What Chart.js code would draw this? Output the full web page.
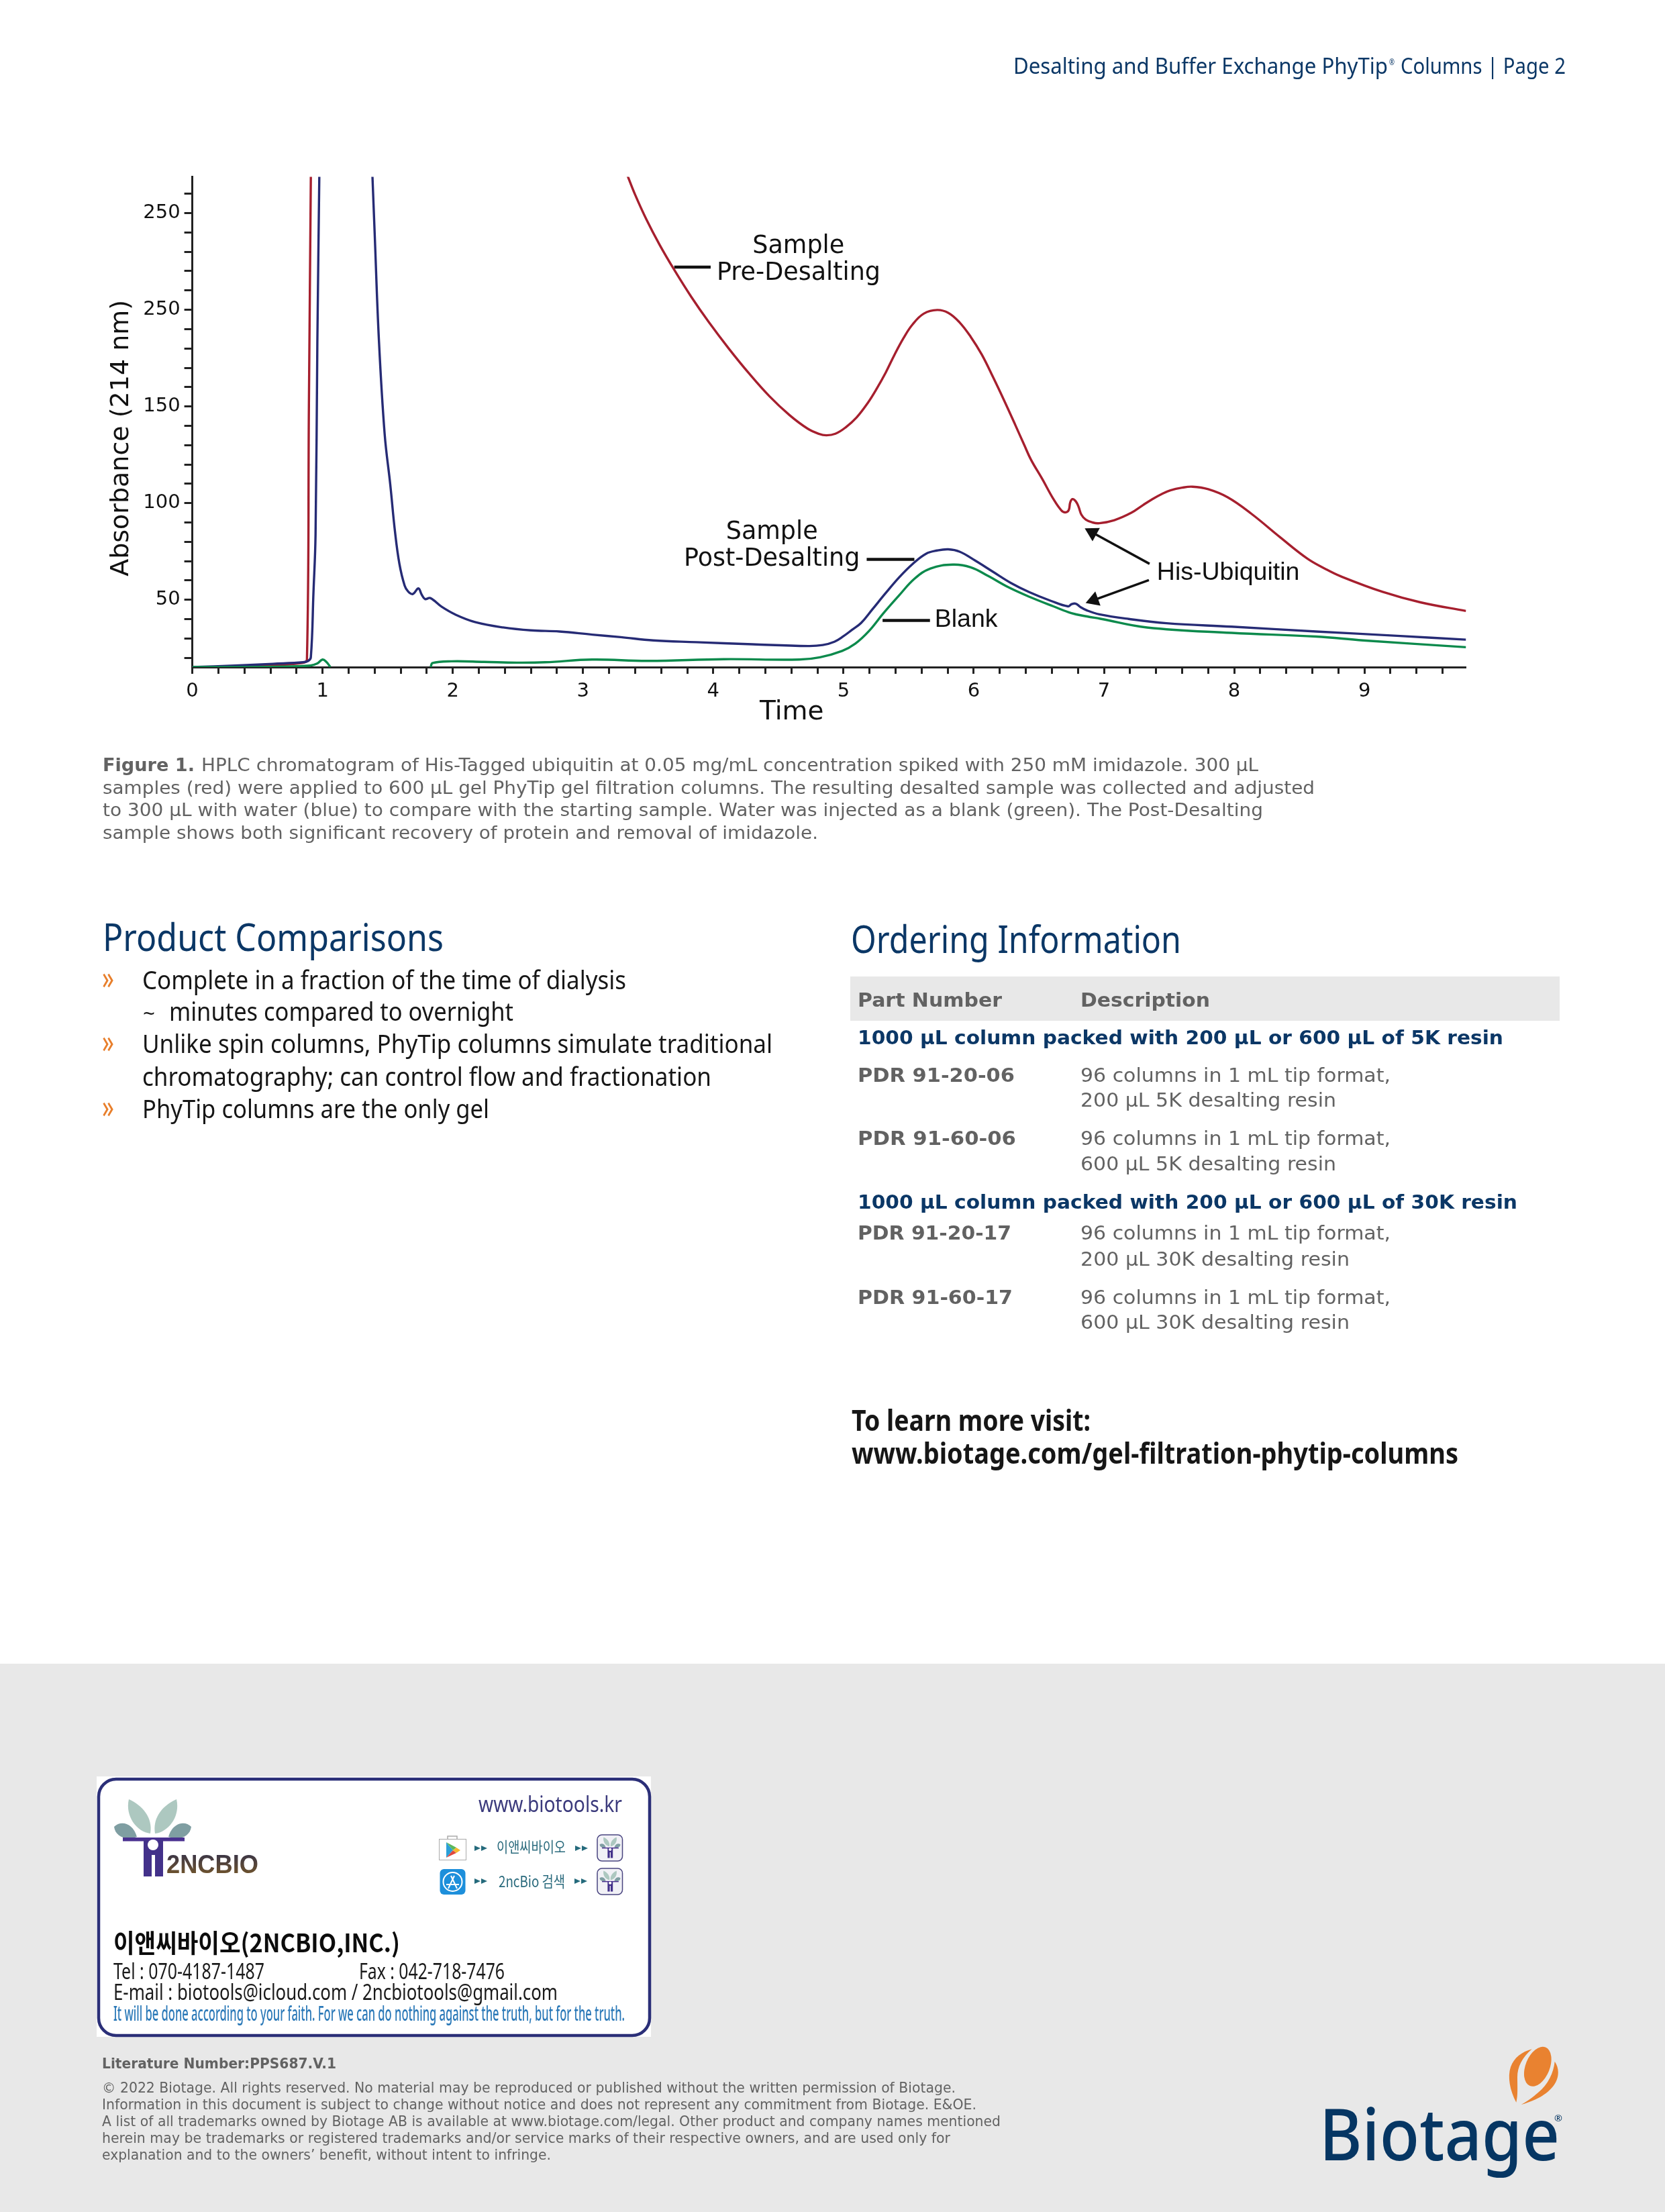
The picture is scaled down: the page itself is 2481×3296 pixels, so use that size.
<!DOCTYPE html>
<html><head><meta charset="utf-8">
<script src="https://cdn.jsdelivr.net/npm/chart.js@4"></script>
<style>
html,body{margin:0;padding:0;background:#fff;width:2481px;height:3296px;overflow:hidden}
#band{position:absolute;left:0;top:2479px;width:2481px;height:817px;background:#e8e8e8}
#c{position:absolute;left:140px;top:240px}
#page{position:absolute;left:0;top:0}
</style></head><body>
<div id="band"></div>
<canvas id="c" width="2060" height="860" style="width:2060px;height:860px"></canvas>
<svg id="page" width="2481" height="3296" viewBox="0 0 2481 3296" xmlns="http://www.w3.org/2000/svg"></svg>
<script>
// ---- chart data ----
const yTickValues = [50, 100, 150, 200, 250];
const yTickLabels = ['50', '100', '150', '250', '250'];
const xTickValues = [0, 1, 2, 3, 4, 5, 6, 7, 8, 9];
const xTickLabels = ['0', '1', '2', '3', '4', '5', '6', '7', '8', '9'];

const redX = [0, 0.33, 0.62, 0.85, 0.88, 0.895, 0.91, null, 3.335, 3.40, 3.486, 3.589, 3.70, 3.83, 3.967, 4.122, 4.277, 4.431, 4.586, 4.723, 4.809, 4.869, 4.938, 5.015, 5.10, 5.187, 5.255, 5.324, 5.392, 5.462, 5.53, 5.616, 5.719, 5.805, 5.891, 5.977, 6.062, 6.148, 6.234, 6.32, 6.389, 6.44, 6.526, 6.612, 6.672, 6.703, 6.729, 6.741, 6.758, 6.784, 6.805, 6.827, 6.861, 6.912, 6.964, 7.08, 7.21, 7.30, 7.37, 7.44, 7.51, 7.60, 7.68, 7.80, 7.95, 8.13, 8.35, 8.56, 8.70, 8.82, 9.14, 9.43, 9.78];
const redY = [15.2, 15.4, 16.2, 17.4, 19.2, 150, 269, null, 270.5, 259.5, 246.8, 233.5, 220.7, 206.8, 193.5, 179.7, 166.9, 155.3, 145.5, 138.6, 135.9, 135.1, 135.9, 139.1, 144.3, 151.9, 159.2, 167.5, 176.8, 185.5, 192.4, 198, 199.9, 198.4, 193.5, 186, 176.8, 165.2, 153, 140.3, 129.9, 122.4, 112.5, 102.1, 96.3, 95.2, 96.3, 100.4, 102.1, 100.9, 98.1, 94, 91.4, 90, 89.6, 91.2, 95, 99, 102, 104.6, 106.6, 108, 108.5, 107.2, 103, 94.6, 82.5, 71.4, 66, 62.1, 54.1, 48.7, 44.2];

const blueX = [0, 0.33, 0.62, 0.85, 0.89, 0.91, 0.93, 0.946, 0.96, 0.975, null, 1.383, 1.40, 1.433, 1.477, 1.52, 1.556, 1.59, 1.63, 1.657, 1.693, 1.736, 1.76, 1.787, 1.827, 1.917, 2.025, 2.17, 2.386, 2.60, 2.82, 3.07, 3.29, 3.54, 3.87, 4.30, 4.73, 4.84, 4.93, 5.0, 5.066, 5.135, 5.221, 5.324, 5.427, 5.53, 5.633, 5.719, 5.805, 5.891, 6.011, 6.148, 6.286, 6.423, 6.595, 6.724, 6.75, 6.784, 6.818, 6.87, 6.964, 7.19, 7.48, 7.98, 8.63, 9.25, 9.78];
const blueY = [15.2, 16, 16.9, 17.7, 18.4, 20.3, 53.7, 83.5, 183.8, 269, null, 269, 239.6, 183.8, 135.5, 109.5, 85.3, 68.6, 57.4, 54.3, 53, 55.9, 52.8, 50.4, 50.9, 46.3, 42.2, 38.5, 35.7, 34.2, 33.6, 32, 30.7, 29, 28.1, 27, 26.1, 26.6, 28.3, 31.2, 34.5, 38, 45, 53.5, 61.6, 68.5, 73.8, 75.5, 76.1, 74.9, 70.3, 64.5, 58.7, 54.1, 49.4, 46.6, 47.7, 48, 46.3, 44.5, 42.5, 40.1, 37.9, 36.1, 33.6, 31.4, 29.4];

const greenX = [0, 0.33, 0.62, 0.906, 0.96, 1.0, 1.03, 1.06, null, 1.83, 1.845, 1.99, 2.24, 2.49, 2.71, 3.07, 3.5, 4.08, 4.66, 4.82, 4.99, 5.09, 5.195, 5.307, 5.427, 5.547, 5.668, 5.84, 5.977, 6.114, 6.269, 6.44, 6.612, 6.75, 6.87, 6.973, 7.33, 7.98, 8.63, 8.99, 9.78];
const greenY = [15.2, 15.2, 15.4, 16, 17.1, 19.1, 17.8, 15.2, null, 15.2, 17.3, 18.2, 17.9, 17.5, 17.7, 19.1, 18.4, 19.3, 19.1, 20.3, 23.6, 27.3, 33.8, 43.1, 52.3, 61, 66.2, 68.2, 66.8, 62.2, 56.4, 51.2, 46.6, 43.1, 41.4, 40.2, 35.7, 32.9, 31, 29, 25.5];

// leader lines and arrows of the annotations, in axis units
const leaderPreX = [3.70, 3.98];    const leaderPreY = [222.1, 222.1];
const leaderPostX = [5.178, 5.544]; const leaderPostY = [70.9, 70.9];
const leaderBlankX = [5.30, 5.664]; const leaderBlankY = [39.3, 39.3];
const arrowRedX = [7.35, 6.911];    const arrowRedY = [68.6, 84.8];
const arrowBlueX = [7.345, 6.922];  const arrowBlueY = [60.2, 49.9];

const noteTexts = ['Sample', 'Pre-Desalting', 'Sample', 'Post-Desalting', 'Blank', 'His-Ubiquitin'];
const noteX = [4.654, 4.655, 4.45, 4.45, 5.70, 7.406];
const noteY = [229.4, 215.5, 81.6, 67.7, 36.1, 60.2];

function pts(xs, ys) { return xs.map((x, i) => x === null ? {x: NaN, y: null} : {x, y: ys[i]}); }
function curve(label, xs, ys, color) {
  return {label, data: pts(xs, ys), borderColor: color, borderWidth: 3.4, pointRadius: 0, fill: false, tension: 0.4, spanGaps: false};
}
function leader(label, xs, ys) {
  return {label, data: pts(xs, ys), borderColor: '#111', borderWidth: 4.5, pointRadius: 0, fill: false};
}
function arrow(label, xs, ys, rot) {
  return {label, data: pts(xs, ys), borderColor: '#111', backgroundColor: '#111', borderWidth: 3.5, fill: false,
    pointStyle: 'triangle', pointRadius: [0, 13], pointRotation: rot, pointBorderWidth: 0};
}

const noteLabels = {
  id: 'noteLabels',
  afterDatasetsDraw(chart) {
    const {ctx, scales: {x, y}} = chart;
    ctx.save();
    ctx.fillStyle = '#111';
    ctx.textBaseline = 'alphabetic';
    noteTexts.forEach((t, i) => {
      const arial = i >= 4;
      ctx.font = arial ? '37.5px "Liberation Sans"' : '36.5px "DejaVu Sans"';
      ctx.textAlign = arial ? 'left' : 'center';
      ctx.fillText(t, x.getPixelForValue(noteX[i]), y.getPixelForValue(noteY[i]));
    });
    ctx.restore();
  }
};

new Chart(document.getElementById('c'), {
  type: 'line',
  data: {datasets: [
    curve('Blank', greenX, greenY, '#0c8a4c'),
    curve('Sample Post-Desalting', blueX, blueY, '#262b75'),
    curve('Sample Pre-Desalting', redX, redY, '#a61f2e'),
    leader('leader pre', leaderPreX, leaderPreY),
    leader('leader post', leaderPostX, leaderPostY),
    leader('leader blank', leaderBlankX, leaderBlankY),
    arrow('arrow red', arrowRedX, arrowRedY, -61),
    arrow('arrow blue', arrowBlueX, arrowBlueY, -110)
  ]},
  plugins: [noteLabels],
  options: {
    responsive: false, animation: false, devicePixelRatio: 1,
    layout: {padding: {left: 0, right: 15.5, top: 22.5, bottom: 0}},
    plugins: {legend: {display: false}, tooltip: {enabled: false}},
    scales: {
      x: {
        type: 'linear', min: 0, max: 9.78,
        afterFit(s) { s.height = 106; },
        border: {color: '#222', width: 3},
        grid: {drawOnChartArea: false, drawTicks: true, tickLength: 10, tickWidth: 3, tickColor: '#222'},
        ticks: {stepSize: 0.2, includeBounds: false, autoSkip: false, maxRotation: 0, padding: 9, color: '#111', font: {family: 'DejaVu Sans', size: 29},
          callback(v) { const i = xTickValues.findIndex(t => Math.abs(t - v) < 1e-6); return i < 0 ? '' : xTickLabels[i]; }},
        title: {display: true, text: 'Time         ', color: '#111', font: {family: 'DejaVu Sans', size: 39}, padding: {top: 0, bottom: 15}}
      },
      y: {
        type: 'linear', min: 15.2, max: 268.8,
        afterFit(s) { s.width = 146.6; },
        border: {color: '#222', width: 3},
        grid: {drawOnChartArea: false, drawTicks: true, tickLength: 12, tickWidth: 3, tickColor: '#222'},
        ticks: {stepSize: 10, includeBounds: false, autoSkip: false, padding: 6, color: '#111', font: {family: 'DejaVu Sans', size: 29},
          callback(v) { const i = yTickValues.indexOf(Math.round(v)); return i < 0 ? '' : yTickLabels[i]; }},
        title: {display: true, text: 'Absorbance (214 nm)    ', color: '#111', font: {family: 'DejaVu Sans', size: 38}, padding: {top: 18, bottom: 0}}
      }
    }
  }
});

// ---- page furniture (text and logos) ----
const svg = document.getElementById('page');
const NS = 'http://www.w3.org/2000/svg';
const D = 'DejaVu Sans', N = 'Noto Sans', L = 'Liberation Sans', K = 'Noto Sans CJK KR';
function el(tag, attrs, parent) {
  const e = document.createElementNS(NS, tag);
  for (const k in attrs) e.setAttribute(k, attrs[k]);
  (parent || svg).appendChild(e);
  return e;
}
function T(s, x, base, w, font, size, weight, color, parent) {
  const e = el('text', {x, y: base, 'font-family': font, 'font-size': size, 'font-weight': weight, fill: color, textLength: w, lengthAdjust: 'spacingAndGlyphs'}, parent);
  e.setAttribute('xml:space', 'preserve');
  e.textContent = s;
}
const navy = '#0b3766', grey = '#626262', ink = '#161616';

T('Desalting and Buffer Exchange PhyTip', 1510, 110, 558, N, 33, 400, navy);
T('®', 2070, 97, 8, N, 12, 400, navy);
T('Columns | Page 2', 2087, 110, 246, N, 33, 400, navy);

T('Figure 1.', 153, 1149, 137, D, 26, 700, grey);
T('HPLC chromatogram of His-Tagged ubiquitin at 0.05 mg/mL concentration spiked with 250 mM imidazole. 300 µL', 300, 1149, 1575, D, 26, 400, grey);
T('samples (red) were applied to 600 µL gel PhyTip gel filtration columns. The resulting desalted sample was collected and adjusted', 153, 1183, 1806, D, 26, 400, grey);
T('to 300 µL with water (blue) to compare with the starting sample. Water was injected as a blank (green). The Post-Desalting', 153, 1216, 1729, D, 26, 400, grey);
T('sample shows both significant recovery of protein and removal of imidazole.', 153, 1250, 1066, D, 26, 400, grey);

T('Product Comparisons', 153, 1417, 508, N, 56, 400, navy);
const bulletBase = [1474, 1569, 1666];
bulletBase.forEach(b => T('»', 152, b, 18, N, 50, 400, '#e87f2c'));
T('Complete in a fraction of the time of dialysis', 212, 1474, 721, N, 38, 400, ink);
T('~', 213, 1521, 18, N, 30, 400, ink);
T('minutes compared to overnight', 252, 1521, 513, N, 38, 400, ink);
T('Unlike spin columns, PhyTip columns simulate traditional', 212, 1569, 939, N, 38, 400, ink);
T('chromatography; can control flow and fractionation', 212, 1618, 848, N, 38, 400, ink);
T('PhyTip columns are the only gel', 212, 1666, 517, N, 38, 400, ink);

T('Ordering Information', 1268, 1420, 492, N, 56, 400, navy);
el('rect', {x: 1267, y: 1455, width: 1057, height: 66, fill: '#e8e8e8'});
T('Part Number', 1278, 1500, 215, D, 29, 700, grey);
T('Description', 1610, 1500, 193, D, 29, 700, grey);
T('1000 µL column packed with 200 µL or 600 µL of 5K resin', 1278, 1556, 962, D, 29, 700, navy);
T('PDR 91-20-06', 1278, 1612, 234, D, 29, 700, grey);
T('96 columns in 1 mL tip format,', 1610, 1612, 462, D, 29, 400, grey);
T('200 µL 5K desalting resin', 1610, 1649, 381, D, 29, 400, grey);
T('PDR 91-60-06', 1278, 1706, 236, D, 29, 700, grey);
T('96 columns in 1 mL tip format,', 1610, 1706, 462, D, 29, 400, grey);
T('600 µL 5K desalting resin', 1610, 1744, 381, D, 29, 400, grey);
T('1000 µL column packed with 200 µL or 600 µL of 30K resin', 1278, 1801, 983, D, 29, 700, navy);
T('PDR 91-20-17', 1278, 1847, 229, D, 29, 700, grey);
T('96 columns in 1 mL tip format,', 1610, 1847, 462, D, 29, 400, grey);
T('200 µL 30K desalting resin', 1610, 1886, 401, D, 29, 400, grey);
T('PDR 91-60-17', 1278, 1943, 231, D, 29, 700, grey);
T('96 columns in 1 mL tip format,', 1610, 1943, 462, D, 29, 400, grey);
T('600 µL 30K desalting resin', 1610, 1980, 401, D, 29, 400, grey);

T('To learn more visit:', 1269, 2132, 356, N, 43, 700, ink);
T('www.biotage.com/gel-filtration-phytip-columns', 1269, 2181, 904, N, 43, 700, ink);

// business card
el('rect', {x: 144, y: 2647, width: 826, height: 388, fill: '#fff'});
el('rect', {x: 147, y: 2651, width: 821, height: 382, rx: 26, fill: 'none', stroke: '#2b2f78', 'stroke-width': 4.5});
function tree(g) {
  const leaf = (d, f) => el('path', {d, fill: f}, g);
  leaf('M192 2681 C212 2690 228 2708 224 2732 C204 2730 186 2706 192 2681Z', '#adc8c0');
  leaf('M263 2681 C243 2690 227 2708 231 2732 C251 2730 269 2706 263 2681Z', '#adc8c0');
  leaf('M170 2722 C180 2712 198 2716 204 2737 C186 2743 172 2736 170 2722Z', '#7f9ea2');
  leaf('M285 2722 C275 2712 257 2716 251 2737 C269 2743 283 2736 285 2722Z', '#7f9ea2');
  el('rect', {x: 183, y: 2738, width: 92, height: 5.5, fill: '#4a3190'}, g);
  el('path', {d: 'M214 2742 H243 V2796 H231 V2764 H226 V2796 H214Z', fill: '#43318a'}, g);
  el('circle', {cx: 228, cy: 2749, r: 8, fill: '#fff'}, g);
}
tree(el('g', {}));
const grad = el('linearGradient', {id: 'brown', x1: 0, y1: 0, x2: 0, y2: 1}, el('defs', {}));
el('stop', {offset: 0, 'stop-color': '#2e2e4c'}, grad); el('stop', {offset: 1, 'stop-color': '#7a5a28'}, grad);
T('2NCBIO', 248, 2791, 137, L, 39, 700, 'url(#brown)');
T('www.biotools.kr', 713, 2700, 214, N, 32, 400, '#3b3a7c');
el('rect', {x: 654.5, y: 2740.5, width: 40, height: 31, fill: '#fff', stroke: '#aaa', 'stroke-width': 1});
el('path', {d: 'M667 2741 V2736 H681 V2741', fill: 'none', stroke: '#aaa', 'stroke-width': 1.5});
el('path', {d: 'M665 2745 L675 2757 L665 2768Z', fill: '#2ba0d8'});
el('path', {d: 'M665 2745 L680 2753 L675 2757Z', fill: '#5cb85c'});
el('path', {d: 'M665 2768 L680 2761 L675 2757Z', fill: '#e0483e'});
el('path', {d: 'M680 2753 L686 2757 L680 2761 L675 2757Z', fill: '#f5b82e'});
el('rect', {x: 655.5, y: 2785, width: 38, height: 38, rx: 6, fill: '#1d8fdb'});
el('circle', {cx: 674.5, cy: 2804, r: 14, fill: 'none', stroke: '#fff', 'stroke-width': 2});
el('path', {d: 'M668 2814 L677 2795 M681 2814 L672 2795 M665 2808 H684', fill: 'none', stroke: '#fff', 'stroke-width': 2});
[[707, 2754], [857, 2754], [707, 2803], [856, 2803]].forEach(([x, y]) => {
  el('path', {d: `M${x} ${y-4} L${x+9} ${y} L${x} ${y+4}Z M${x+10} ${y-4} L${x+19} ${y} L${x+10} ${y+4}Z`, fill: '#256a7c'});
});
T('이앤씨바이오', 740, 2760, 103, K, 22, 400, '#2b6b7d');
T('2ncBio 검색', 743, 2812, 99, K, 23, 400, '#2b6b7d');
[2734, 2784].forEach(y => {
  el('rect', {x: 890, y, width: 37.5, height: 39, rx: 7, fill: '#f1f1f6', stroke: '#4a4580', 'stroke-width': 1.5});
  const s = 0.27;
  tree(el('g', {transform: `translate(${893.5 - 170 * s},${y + 3.5 - 2681 * s}) scale(${s})`}));
});
T('이앤씨바이오(2NCBIO,INC.)', 169, 2909, 427, K, 38, 700, '#0c0c0c');
T('Tel : 070-4187-1487', 169, 2949, 225, N, 32, 400, '#1a1a1a');
T('Fax : 042-718-7476', 535, 2949, 217, N, 32, 400, '#1a1a1a');
T('E-mail : biotools@icloud.com / 2ncbiotools@gmail.com', 169, 2980, 662, N, 32, 400, '#1a1a1a');
T('It will be done according to your faith. For we can do nothing against the truth, but for the truth.', 169, 3011, 762, N, 30, 500, '#2b79b8');

T('Literature Number:PPS687.V.1', 152, 3082, 349, D, 21, 700, grey);
T('© 2022 Biotage. All rights reserved. No material may be reproduced or published without the written permission of Biotage.', 152, 3118, 1272, D, 21, 400, grey);
T('Information in this document is subject to change without notice and does not represent any commitment from Biotage. E&OE.', 152, 3143, 1303, D, 21, 400, grey);
T('A list of all trademarks owned by Biotage AB is available at www.biotage.com/legal. Other product and company names mentioned', 152, 3168, 1339, D, 21, 400, grey);
T('herein may be trademarks or registered trademarks and/or service marks of their respective owners, and are used only for', 152, 3193, 1264, D, 21, 400, grey);
T('explanation and to the owners’ benefit, without intent to infringe.', 152, 3218, 669, D, 21, 400, grey);

// Biotage logo
T('Biotage', 1966, 3219, 358, N, 107, 500, '#063663');
T('®', 2316, 3161, 12, N, 13, 400, '#063663');
el('ellipse', {cx: 2291.3, cy: 3079.3, rx: 18, ry: 31, transform: 'rotate(22 2291.3 3079.3)', fill: '#e98230'});
el('path', {d: 'M2259.3 3132.7 C2250 3115 2246 3095 2251 3080 C2256 3066 2268 3057 2282.7 3053.3 C2268 3066 2261 3080 2261 3095 C2261 3110 2262 3122 2259.3 3132.7Z', fill: '#e98230'});
el('path', {d: 'M2266.7 3136 C2290 3130 2316 3116 2321 3095 C2323 3086 2321 3078 2316.7 3071.7 C2315 3088 2307 3106 2292 3118 C2284 3125 2276 3131 2266.7 3136Z', fill: '#e98230'});
</script>
</body></html>
